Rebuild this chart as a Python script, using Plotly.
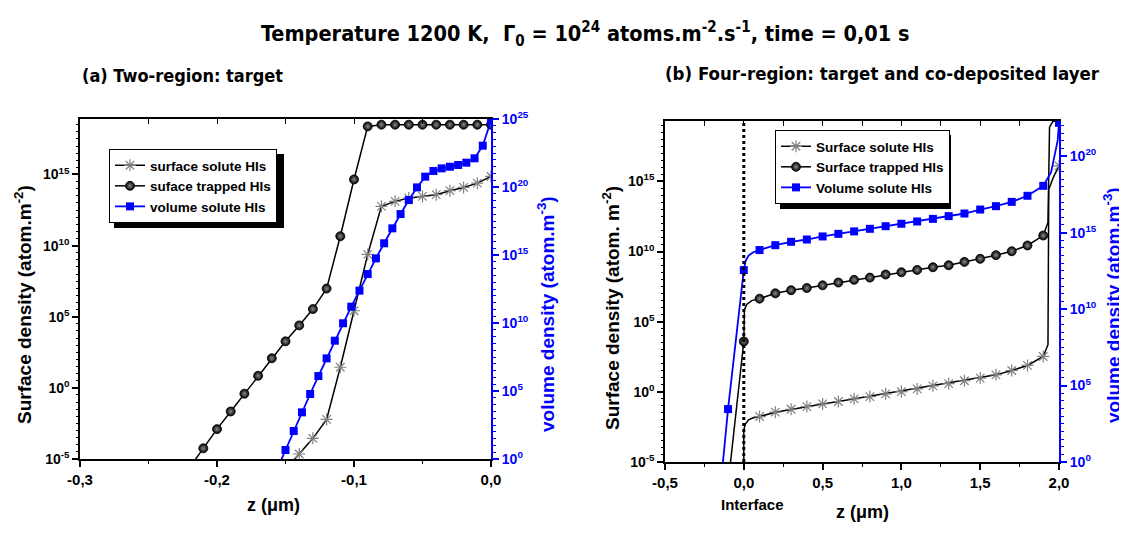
import plotly.graph_objects as go

W, H = 1127, 534
OFF = 8                      # the page body margin of the written html
FW, FH = W - OFF, H - OFF    # figure size so that it fills the window exactly
FONT = "Liberation Sans, Arial, sans-serif"
NARROW = "Liberation Sans Narrow, Arial Narrow, DejaVu Sans Condensed, sans-serif"
BLUE = "#0000FF"

# ---------------- Panel (a): two-region, target ----------------
a_x_trapped = [-0.21, -0.20, -0.19, -0.18, -0.17, -0.16, -0.15, -0.14, -0.13, -0.12, -0.11,
               -0.10, -0.09, -0.08, -0.07, -0.06, -0.05, -0.04, -0.03, -0.02, -0.01, 0.0]
a_trapped_log10 = [-4.25, -2.9, -1.66, -0.41, 0.85, 2.08, 3.27, 4.39, 5.54, 6.98, 10.66,
                   14.65, 18.38, 18.5, 18.5, 18.5, 18.5, 18.5, 18.5, 18.5, 18.5, 18.5]

a_x_solute = [-0.14, -0.13, -0.12, -0.11, -0.10, -0.09, -0.08, -0.07, -0.06, -0.05,
              -0.04, -0.03, -0.02, -0.01, 0.0]
a_solute_log10 = [-4.65, -3.55, -2.22, 1.45, 5.42, 9.38, 12.76, 13.11, 13.34, 13.46,
                  13.58, 13.86, 14.09, 14.39, 14.86]

a_x_volume = [-0.150, -0.144, -0.138, -0.132, -0.126, -0.120, -0.114, -0.108, -0.102,
              -0.096, -0.090, -0.084, -0.078, -0.072, -0.066, -0.060, -0.054, -0.048,
              -0.042, -0.036, -0.030, -0.024, -0.018, -0.012, -0.006, 0.0]
a_volume_log10 = [0.66, 2.06, 3.43, 4.78, 6.10, 7.40, 8.70, 9.98, 11.2, 12.38, 13.60,
                  14.75, 15.86, 16.96, 18.01, 19.04, 19.97, 20.76, 21.18, 21.37, 21.49,
                  21.62, 21.79, 22.11, 23.04, 24.88]

# where the curves leave the frame at the bottom
a_trapped_edge = ([-0.22], [-5.6])
a_solute_edge = ([-0.146], [-5.3])
a_volume_edge = ([-0.154], [-0.27])

# ---------------- Panel (b): four-region, target + co-deposited layer ----------------
b_x_volume = [-0.1, 0.0, 0.1, 0.2, 0.3, 0.4, 0.5, 0.6, 0.7, 0.8, 0.9, 1.0, 1.1, 1.2,
              1.3, 1.4, 1.5, 1.6, 1.7, 1.8, 1.9, 2.0]
b_volume_log10 = [3.46, 12.55, 13.86, 14.18, 14.40, 14.55, 14.75, 14.92, 15.08, 15.25,
                  15.42, 15.58, 15.73, 15.90, 16.08, 16.25, 16.51, 16.73, 17.01, 17.41,
                  18.06, 22.18]

b_x_trapped = [0.0, 0.1, 0.2, 0.3, 0.4, 0.5, 0.6, 0.7, 0.8, 0.9, 1.0, 1.1, 1.2, 1.3,
               1.4, 1.5, 1.6, 1.7, 1.8, 1.9]
b_trapped_log10 = [3.59, 6.64, 7.02, 7.24, 7.40, 7.59, 7.79, 7.98, 8.14, 8.36, 8.52,
                   8.69, 8.88, 9.02, 9.26, 9.48, 9.74, 10.02, 10.43, 11.14]

b_x_solute = [0.1, 0.2, 0.3, 0.4, 0.5, 0.6, 0.7, 0.8, 0.9, 1.0, 1.1, 1.2, 1.3, 1.4,
              1.5, 1.6, 1.7, 1.8, 1.9, 2.0]
b_solute_log10 = [-1.76, -1.45, -1.24, -1.05, -0.86, -0.69, -0.5, -0.34, -0.14, 0.02,
                  0.21, 0.43, 0.59, 0.79, 0.98, 1.21, 1.52, 1.88, 2.52, 16.1]

# extra vertices of the continuous curves (knees at the interface and near z = 2)
b_volume_curve = ([-0.135, 0.012, 0.03, 0.06, 1.95, 1.975, 1.992],
                  [-0.3, 13.15, 13.5, 13.72, 18.95, 20.2, 21.05])
b_trapped_curve = ([-0.087, 0.004, 0.02, 0.05, 1.93, 1.94, 1.96, 1.99],
                   [-5.3, 5.86, 6.25, 6.5, 12.07, 18.86, 19.26, 19.3])
b_solute_curve = ([0.0, 0.0, 0.01, 0.03, 0.06, 1.93, 1.935, 1.965],
                  [-5.3, -2.71, -2.3, -2.0, -1.85, 3.36, 14.43, 15.3])

# ---------------- texts & ticks ----------------
title_text = ("Temperature 1200 K,  \u0393<sub>0</sub> = 10<sup>24</sup> atoms.m<sup>-2</sup>"
              ".s<sup>-1</sup>, time = 0,01 s")
sub_a = "(a) Two-region: target"
sub_b = "(b) Four-region: target and co-deposited layer"
legend_a = ["surface solute HIs", "suface trapped HIs", "volume solute HIs"]
legend_b = ["Surface solute HIs", "Surface trapped HIs", "Volume solute HIs"]
a_xticks = [-0.3, -0.2, -0.1, 0.0]
a_xticktext = ["-0,3", "-0,2", "-0,1", "0,0"]
a_xminor = [-0.25, -0.15, -0.05]
b_xticks = [-0.5, 0.0, 0.5, 1.0, 1.5, 2.0]
b_xticktext = ["-0,5", "0,0", "0,5", "1,0", "1,5", "2,0"]
b_xminor = [-0.25, 0.25, 0.75, 1.25, 1.75]
surf_exps = [-5, 0, 5, 10, 15]
a_vol_exps = [0, 5, 10, 15, 20, 25]
b_vol_exps = [0, 5, 10, 15, 20]


def px(x):
    return (x - OFF) / FW


def py(y):
    return 1 - (y - OFF) / FH


def pw(vals):
    return [10.0 ** v for v in vals]


def merged(mx, my, ex, ey):
    pts = sorted(zip(list(mx) + list(ex), list(my) + list(ey)))
    return [p[0] for p in pts], [10.0 ** p[1] for p in pts]


def sup_text(exps):
    return ["10<sup>%d</sup>" % e for e in exps]


def minor_vals(lo, hi):
    out = []
    for k in range(lo, hi + 1):
        out.append(10.0 ** k)
        out.append(10.0 ** (k + 0.5))
    return out


M_SOL = dict(symbol="asterisk-open", size=10, color="#808080",
             line=dict(color="#808080", width=1.2))
M_TRAP = dict(symbol="circle", size=9, color="#000000",
              gradient=dict(type="radial", color="#8c8c8c"),
              line=dict(color="black", width=0.8))
M_VOL = dict(symbol="square", size=8, color=BLUE, line=dict(width=0))
L_BLACK = dict(color="black", width=1.5)
L_BLUE = dict(color=BLUE, width=1.8)

fig = go.Figure()


def line_trace(mx, my, ex, ey, ln, xa, ya):
    lx, ly = merged(mx, my, ex, ey)
    fig.add_trace(go.Scatter(x=lx, y=ly, mode="lines", line=ln, showlegend=False,
                             hoverinfo="skip", xaxis=xa, yaxis=ya))


def marker_trace(mx, my, mk, xa, ya):
    fig.add_trace(go.Scatter(x=mx, y=pw(my), mode="markers", marker=mk, showlegend=False,
                             xaxis=xa, yaxis=ya))


# ----- panel (a) traces -----
line_trace(a_x_solute, a_solute_log10, *a_solute_edge, L_BLACK, "x", "y")
line_trace(a_x_trapped, a_trapped_log10, *a_trapped_edge, L_BLACK, "x", "y")
line_trace(a_x_volume, a_volume_log10, *a_volume_edge, L_BLUE, "x", "y2")
marker_trace(a_x_solute, a_solute_log10, M_SOL, "x", "y")
marker_trace(a_x_trapped, a_trapped_log10, M_TRAP, "x", "y")
marker_trace(a_x_volume, a_volume_log10, M_VOL, "x", "y2")

# ----- panel (b) traces -----
line_trace(b_x_solute, b_solute_log10, *b_solute_curve, L_BLACK, "x2", "y3")
line_trace(b_x_trapped, b_trapped_log10, *b_trapped_curve, L_BLACK, "x2", "y3")
line_trace(b_x_volume, b_volume_log10, *b_volume_curve, L_BLUE, "x2", "y4")
marker_trace(b_x_solute, b_solute_log10, M_SOL, "x2", "y3")
marker_trace(b_x_trapped, b_trapped_log10, M_TRAP, "x2", "y3")
marker_trace(b_x_volume, b_volume_log10, M_VOL, "x2", "y4")

# ----- legend entries -----
for names, leg, xa, ya in [(legend_a, "legend", "x", "y"), (legend_b, "legend2", "x2", "y3")]:
    styles = [(L_BLACK, M_SOL), (L_BLACK, M_TRAP), (L_BLUE, M_VOL)]
    for name, (ln, mk) in zip(names, styles):
        fig.add_trace(go.Scatter(x=[None], y=[None], mode="lines+markers", name=name,
                                 line=ln, marker=mk, legend=leg, xaxis=xa, yaxis=ya))

# empty traces so that the overlay (tick-only) axes get drawn
for xa, ya in [("x3", "y"), ("x5", "y"), ("x", "y5"), ("x", "y6"),
               ("x4", "y3"), ("x6", "y3"), ("x2", "y7"), ("x2", "y8")]:
    fig.add_trace(go.Scatter(x=[None], y=[None], mode="markers", showlegend=False,
                             hoverinfo="skip", xaxis=xa, yaxis=ya))

# ----- axes -----
TF = dict(family=FONT, size=15, color="black", weight="bold")
TFY = dict(family=FONT, size=14, color="black", weight="bold")
TFB = dict(family=FONT, size=14, color=BLUE, weight="bold")
BASE = dict(showgrid=False, zeroline=False, automargin=False, fixedrange=True)


def xax(domain, rng, tv, tt, anchor):
    return dict(BASE, domain=domain, range=rng, anchor=anchor, tickmode="array",
                tickvals=tv, ticktext=tt, ticks="outside", ticklen=6, tickwidth=1.5,
                tickcolor="black", showline=True, linecolor="black", linewidth=1.5,
                tickfont=TF)


def xover(over, anchor, rng, tv, side, ticks, ticklen, line):
    return dict(BASE, overlaying=over, anchor=anchor, side=side, range=rng,
                tickmode="array", tickvals=tv, ticks=ticks, ticklen=ticklen, tickwidth=1.3,
                tickcolor="black", showticklabels=False, showline=line,
                linecolor="black", linewidth=1.5)


def yax(domain, rng, exps, anchor, color, side="left", over=None):
    d = dict(BASE, type="log", range=rng, anchor=anchor, side=side, tickmode="array",
             tickvals=pw(exps), ticktext=sup_text(exps), ticks="outside", ticklen=6,
             tickwidth=1.5, tickcolor=color, showline=True, linecolor=color,
             linewidth=2 if color != "black" else 1.5,
             tickfont=TFY if color == "black" else TFB)
    if over:
        d["overlaying"] = over
    else:
        d["domain"] = domain
    return d


def yminor(over, anchor, rng, color, side):
    return dict(BASE, type="log", overlaying=over, anchor=anchor, side=side, range=rng,
                tickmode="array", tickvals=minor_vals(-6, 26), ticks="outside", ticklen=3.5,
                tickwidth=1.2, tickcolor=color, showticklabels=False, showline=False)


xa_dom = [px(80), px(491)]
xb_dom = [px(665), px(1059)]
ya_dom = [py(459), py(119)]
yb_dom = [py(462), py(121)]
a_xr, b_xr = [-0.3, 0.0], [-0.5, 2.0]
a_y1, a_y2, b_y1, b_y2 = [-5, 18.9], [0, 25], [-5, 19.3], [0, 22.3]

LEG = dict(xanchor="left", yanchor="top", bgcolor="white", bordercolor="black",
           borderwidth=1, font=dict(family=FONT, size=13.5, color="black", weight="bold"),
           tracegroupgap=0, itemwidth=30)

fig.update_layout(
    template="none",
    width=FW, height=FH, margin=dict(l=0, r=0, t=0, b=0, autoexpand=False),
    paper_bgcolor="white", plot_bgcolor="white",
    xaxis=xax(xa_dom, a_xr, a_xticks, a_xticktext, "y"),
    xaxis2=xax(xb_dom, b_xr, b_xticks, b_xticktext, "y3"),
    xaxis3=xover("x", "y", a_xr, a_xticks + a_xminor, "top", "inside", 5, True),
    xaxis4=xover("x2", "y3", b_xr, b_xticks + b_xminor, "top", "inside", 5, True),
    xaxis5=xover("x", "y", a_xr, a_xminor, "bottom", "outside", 3.5, False),
    xaxis6=xover("x2", "y3", b_xr, b_xminor, "bottom", "outside", 3.5, False),
    yaxis=yax(ya_dom, a_y1, surf_exps, "x", "black"),
    yaxis2=yax(None, a_y2, a_vol_exps, "x", BLUE, side="right", over="y"),
    yaxis3=yax(yb_dom, b_y1, surf_exps, "x2", "black"),
    yaxis4=yax(None, b_y2, b_vol_exps, "x2", BLUE, side="right", over="y3"),
    yaxis5=yminor("y", "x", a_y1, "black", "left"),
    yaxis6=yminor("y", "x", a_y2, BLUE, "right"),
    yaxis7=yminor("y3", "x2", b_y1, "black", "left"),
    yaxis8=yminor("y3", "x2", b_y2, BLUE, "right"),
    legend=dict(LEG, x=px(109), y=py(149)),
    legend2=dict(LEG, x=px(775), y=py(130)),
    showlegend=True,
)

# legend shadows
shadows = [(114, 154, 284, 228), (780, 135, 951, 209)]
for x0, y0, x1, y1 in shadows:
    fig.add_shape(type="rect", xref="paper", yref="paper", x0=px(x0), x1=px(x1),
                  y0=py(y1), y1=py(y0), fillcolor="black", line=dict(width=0),
                  layer="above")

# interface dotted line
fig.add_shape(type="line", xref="x2", yref="y3 domain", x0=0, x1=0, y0=0, y1=1,
              line=dict(color="black", width=3, dash="dot"))


def ann(text, x, y, size, color="black", angle=0, family=FONT, xanchor="center"):
    fig.add_annotation(text=text, x=px(x), y=py(y), xref="paper", yref="paper",
                       showarrow=False, textangle=angle, xanchor=xanchor, yanchor="middle",
                       font=dict(family=family, size=size, color=color, weight="bold"))


ann(title_text, 585, 34, 21.5, family=NARROW)
ann(sub_a, 80, 75, 18, family=NARROW, xanchor="left")
ann(sub_b, 663, 74, 18.5, family=NARROW, xanchor="left")
ann("z (\u03bcm)", 273, 505, 18)
ann("z (\u03bcm)", 862, 512, 18)
ann("Interface", 752, 504, 15)
ann("Surface density (atom.m<sup>-2</sup>)", 23, 305, 19, angle=-90)
ann("volume density (atom.m<sup>-3</sup>)", 546, 314, 19, color=BLUE, angle=-90)
ann("Surface density (atom. m<sup>-2</sup>)", 611, 308, 19, angle=-90)
ann("volume density (atom.m<sup>-3</sup>)", 1112, 305, 19, color=BLUE, angle=-90)

fig.write_html("out.html")
